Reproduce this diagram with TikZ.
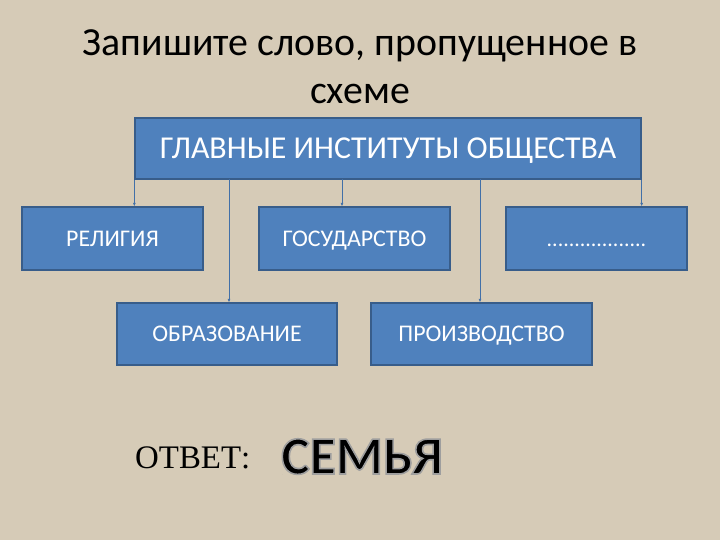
\documentclass[tikz,border=0pt]{standalone}
\usepackage{fontspec}
\setmainfont{Carlito}
\newfontfamily\timesfont{Liberation Serif}
\usetikzlibrary{arrows.meta}
\definecolor{burlap}{RGB}{214,203,183}
\definecolor{boxblue}{RGB}{79,129,189}
\definecolor{boxedge}{RGB}{56,93,138}
\definecolor{linkblue}{RGB}{66,112,168}
% black letters with a grey rim
\newcommand\rimtext[1]{\special{pdf:literal direct 0.62 0.62 0.62 RG 1.6 w 2 Tr}#1\special{pdf:literal direct 0 Tr 0 0 0 RG}}
\begin{document}
\begin{tikzpicture}[x=1bp, y=-1bp,
    institut/.style ={rectangle, draw=boxedge, fill=boxblue, line width=1.3bp,
       text=white, inner sep=0pt, text height=15.5bp, text depth=0pt,
       font=\fontsize{24}{28}\selectfont},
    link/.style ={draw=linkblue, line width=1bp, -{Latex[length=3.5bp,width=3bp]}}]
   \fill[burlap] (0,0) rectangle (720,540);
   \useasboundingbox (0,0) rectangle (720,540);
   \node (title1) [anchor=base] at (360,56) {\fontsize{40}{48}\selectfont Запишите слово, пропущенное в};
   \node (title2) [anchor=base] at (360,104) {\fontsize{40}{48}\selectfont схеме};
   \node[institut, minimum width=506bp, minimum height=61bp, text height=20.6bp, font=\fontsize{32}{38}\selectfont] (glav) at (388,148.5) {ГЛАВНЫЕ ИНСТИТУТЫ ОБЩЕСТВА};
   \node[institut, minimum width=181bp, minimum height=63bp] (rel) at (112.5,238.5) {РЕЛИГИЯ};
   \node[institut, minimum width=191bp, minimum height=63bp] (gos) at (354.5,238.5) {ГОСУДАРСТВО};
   \node[institut, minimum width=181bp, minimum height=63bp, font=\fontsize{22}{26}\selectfont] (dots) at (596.5,238.5) {..................};
   \node[institut, minimum width=220bp, minimum height=62bp] (obr) at (227,334) {ОБРАЗОВАНИЕ};
   \node[institut, minimum width=221bp, minimum height=62bp] (proiz) at (481.5,334) {ПРОИЗВОДСТВО};
   % points where the links leave the top box
   \coordinate (k2) at (229,179);
   \coordinate (k3) at (342,179);
   \coordinate (k4) at (480,179);
   \draw[link] (glav.south west) -- (glav.south west |- rel.north);
      \draw[link] (k2) -- (k2 |- obr.north);
   \draw[link] (k3) -- (k3 |- gos.north);
   \draw[link] (k4) -- (k4 |- proiz.north);
      \draw[link] (glav.south east) -- (glav.south east |- dots.north);
   \node (otvet) [anchor=base west, inner sep=0pt] at (135,468) {\timesfont\fontsize{33}{40}\selectfont ОТВЕТ:};
   \node (semja) [anchor=base west, inner sep=0pt] at (281,474) {\fontsize{54}{60}\selectfont\bfseries\rimtext{СЕМЬЯ}};
 \end{tikzpicture}
\end{document}
